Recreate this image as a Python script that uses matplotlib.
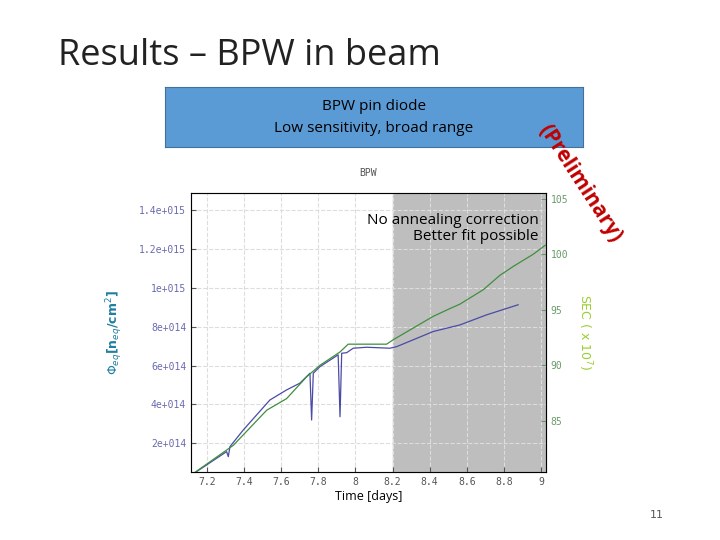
import matplotlib
matplotlib.use("Agg")
from matplotlib import pyplot as plt

# blue: fluence (left axis, units 1e14)
blue_t = [7.144, 7.306, 7.315, 7.324, 7.396, 7.539, 7.629, 7.701, 7.755, 7.764, 7.773,
          7.809, 7.907, 7.917, 7.926, 7.953, 7.988, 8.060, 8.186, 8.222, 8.419, 8.563,
          8.707, 8.877]
blue_v = [0.54, 1.57, 1.31, 1.83, 2.69, 4.23, 4.75, 5.10, 5.61, 3.20, 5.61,
          5.95, 6.56, 3.37, 6.64, 6.67, 6.90, 6.95, 6.90, 6.98, 7.76, 8.10,
          8.62, 9.14]
# green: SEC (right axis, x 10^7)
green_t = [7.126, 7.342, 7.522, 7.629, 7.737, 7.809, 7.917, 7.961, 8.007, 8.168, 8.204,
           8.419, 8.509, 8.563, 8.689, 8.779, 8.851, 8.959, 9.023]
green_v = [80.26, 82.8, 85.96, 87.0, 88.96, 90.0, 91.2, 91.9, 91.9, 91.9, 92.3,
           94.4, 95.1, 95.5, 96.8, 98.1, 98.9, 100.0, 100.8]

x_ticks = [7.2, 7.4, 7.6, 7.8, 8.0, 8.2, 8.4, 8.6, 8.8, 9.0]
x_labels = ["7.2", "7.4", "7.6", "7.8", "8", "8.2", "8.4", "8.6", "8.8", "9"]
y_ticks = [2, 4, 6, 8, 10, 12, 14]
y_labels = ["2e+014", "4e+014", "6e+014", "8e+014", "1e+015", "1.2e+015", "1.4e+015"]
r_ticks = [85, 90, 95, 100, 105]

fig = plt.figure(figsize=(7.2, 5.4), dpi=100)
W, H = 720, 540

fig.text(58 / W, 1 - 56 / H, "Results – BPW in beam", fontsize=26, family="Open Sans",
         va="center", color="#222222")

box = fig.add_axes([165 / W, 1 - 147 / H, 418 / W, 60 / H])
box.set_xticks([]); box.set_yticks([])
box.set_facecolor("#5B9BD5")
for s in box.spines.values():
    s.set_color("#41719C")
box.text(0.5, 0.68, "BPW pin diode", ha="center", va="center", fontsize=11, family="Open Sans")
box.text(0.5, 0.3, "Low sensitivity, broad range", ha="center", va="center", fontsize=11,
         family="Open Sans")

ax = fig.add_axes([191 / W, 1 - 472 / H, 355 / W, 279 / H])
ax.set_xlim(7.114, 9.027)
ax.set_ylim(0.52, 14.9)
ax.axvspan(8.2, 9.1, color="#bebebe", zorder=0)
ax.grid(True, ls="--", color="#dddddd", lw=0.8)
ax.plot(blue_t, blue_v, color="#4a4aa8", lw=0.9)
ax.set_xticks(x_ticks, x_labels)
ax.set_yticks(y_ticks, y_labels)
ax.tick_params(labelsize=7, colors="#555555", direction="in")
for lab in ax.get_yticklabels():
    lab.set_color("#6a6ab0")
    lab.set_family("DejaVu Sans Mono")
for lab in ax.get_xticklabels():
    lab.set_family("DejaVu Sans Mono")
for s in ax.spines.values():
    s.set_color("#999999")
ax.set_title("BPW", fontsize=7, family="DejaVu Sans Mono", color="#555555", pad=12)
ax.set_xlabel("Time [days]", fontsize=9, family="Open Sans", labelpad=2)
ax.set_ylabel(r"$\Phi_{eq}$[n$_{eq}$/cm$^2$]", fontsize=9, color="#1f7f9f",
              fontweight="bold", labelpad=10)

ax2 = ax.twinx()
ax2.set_ylim(80.4, 105.5)
ax2.plot(green_t, green_v, color="#3f8f3f", lw=0.9)
ax2.set_yticks(r_ticks, [str(v) for v in r_ticks])
ax2.tick_params(labelsize=7, colors="#6a9a6a", direction="in")
for lab in ax2.get_yticklabels():
    lab.set_family("DejaVu Sans Mono")
ax2.set_ylabel(r"SEC ( x 10$^7$)", fontsize=9, color="#9acd32", rotation=-90, labelpad=18)

ax.text(0.98, 0.93, "No annealing correction\nBetter fit possible", transform=ax.transAxes,
        ha="right", va="top", fontsize=11, family="Open Sans", linespacing=1.1)

fig.text(580 / W, 1 - 183 / H, "(Preliminary)", rotation=-57, color="#c00000", fontsize=15,
         fontweight="bold", family="Open Sans", ha="center", va="center")
fig.text(657 / W, 1 - 515 / H, "11", fontsize=8, color="#555555", ha="center", va="center")

fig.savefig("out.png", dpi=100)
